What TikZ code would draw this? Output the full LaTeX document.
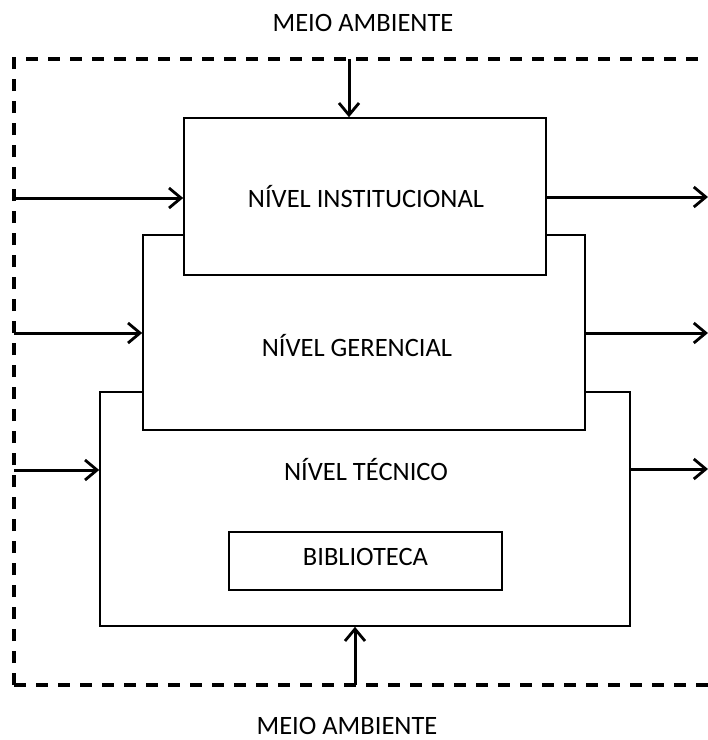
\documentclass[tikz,border=0pt]{standalone}
\usepackage{fontspec}
\setmainfont{Carlito}
\usetikzlibrary{arrows.meta}

\begin{document}
\begin{tikzpicture}[x=1pt, y=-1pt,
    level/.style={draw, line width=1.6pt, fill=white, inner sep=0pt},
    title/.style={font=\fontsize{26.5}{30}\selectfont, inner sep=1pt},
    flow/.style={line width=3pt, -{Straight Barb[length=12pt, width=20pt, line width=2.8pt]}}]
    \clip (0, 0) rectangle (708, 740);
    % environment border
    \draw[line width=3.4pt, dash pattern=on 12pt off 10pt] (14, 685) -- (14, 59) -- (740, 59);
    \draw[line width=3.4pt, dash pattern=on 12pt off 10pt] (14, 685) -- (740, 685);
    % levels, back to front
    \node[level, minimum width=530pt, minimum height=234pt] (tec) at (365, 509) {};
    \node[level, minimum width=442pt, minimum height=195pt] (ger) at (364, 332.5) {};
    \node[level, minimum width=362pt, minimum height=157pt] (inst) at (365, 196.5) {};
    \node[level, minimum width=273pt, minimum height=58pt] (bib) at (365.5, 561) {};
    % level names
    \node[title] (tinst) at (366, 197) {NÍVEL INSTITUCIONAL};
    \node[title] (tger) at (357, 346) {NÍVEL GERENCIAL};
    \node[title] (ttec) at (366, 470) {NÍVEL TÉCNICO};
    \node[title] (tbib) at (365.5, 557) {BIBLIOTECA};
    % environment labels
    \node[title] (envtop) at (363, 23) {MEIO AMBIENTE};
    \node[title] (envbot) at (347, 726) {MEIO AMBIENTE};
    % border points
    \coordinate (in1) at (14, 198);
    \coordinate (in2) at (14, 333);
    \coordinate (in3) at (14, 470);
    \coordinate (out1) at (708, 197);
    \coordinate (out2) at (708, 333);
    \coordinate (out3) at (708, 469);
    \coordinate (top) at (349, 59);
    \coordinate (bot) at (355, 685);
    % inputs and outputs
    \draw[flow] (in1) -- (inst.west |- in1);
    \draw[flow] (in2) -- (ger.west |- in2);
    \draw[flow] (in3) -- (tec.west |- in3);
    \draw[flow] (inst.east |- out1) -- (out1);
    \draw[flow] (ger.east |- out2) -- (out2);
    \draw[flow] (tec.east |- out3) -- (out3);
    \draw[flow] (top) -- (inst.north -| top);
    \draw[flow] (bot) -- (tec.south -| bot);
\end{tikzpicture}
\end{document}
